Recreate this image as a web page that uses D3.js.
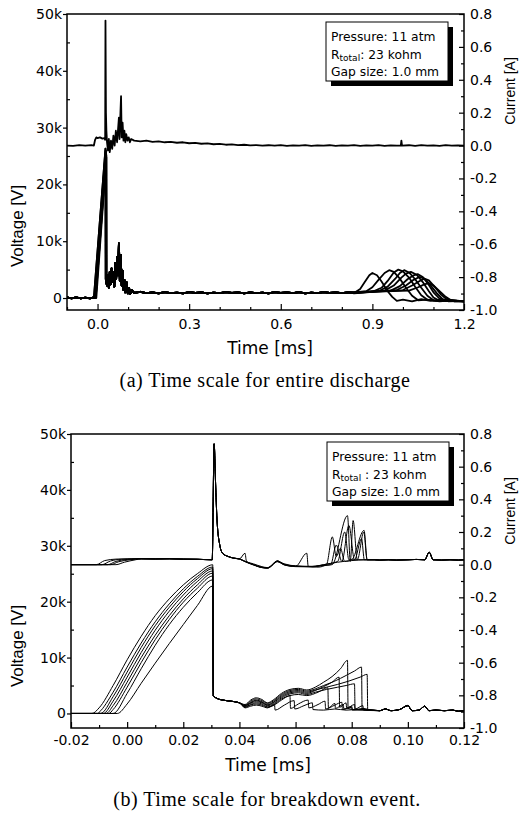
<!DOCTYPE html>
<html>
<head>
<meta charset="utf-8">
<script src="https://cdn.jsdelivr.net/npm/d3@7"></script>
<style>
  body { margin: 0; background: #fff; }
  svg { display: block; }
</style>
</head>
<body>
<svg id="chart" width="522" height="814"></svg>
<script>
// Voltage / current traces of a gas-gap discharge, two time scales.
// Voltage in kV on the left axis, current in A on the right axis.

// ---------- tick labels ----------
const voltTicks = [0, 10, 20, 30, 40, 50];
const voltMinor = [5, 15, 25, 35, 45];
const currTicks = [-1.0, -0.8, -0.6, -0.4, -0.2, 0.0, 0.2, 0.4, 0.6, 0.8];
const currMinor = [-0.9, -0.7, -0.5, -0.3, -0.1, 0.1, 0.3, 0.5, 0.7];
const aTimeTicks = [0.0, 0.3, 0.6, 0.9, 1.2];
const aTimeMinor = [-0.1, 0.1, 0.2, 0.4, 0.5, 0.7, 0.8, 1.0, 1.1];
const bTimeTicks = [-0.02, 0.0, 0.02, 0.04, 0.06, 0.08, 0.10, 0.12];
const bTimeMinor = [-0.01, 0.01, 0.03, 0.05, 0.07, 0.09, 0.11];

const aLegend = ["Pressure: 11 atm", ["R", "total", ": 23 kohm"], "Gap size: 1.0 mm"];
const bLegend = ["Pressure: 11 atm", ["R", "total", " : 23 kohm"], "Gap size: 1.0 mm"];

// ---------- (a) entire discharge: [time ms, value] ----------
const aCurrent = [[-0.1,0.0],[-0.08,-0.002],[-0.06,0.002],[-0.04,-0.001],[-0.02,0.002],[-0.012,0.0],
  [-0.008,0.035],[-0.004,0.05],[0.0,0.045],[0.008,0.05],[0.016,0.042],[0.022,0.045],[0.025,0.035],
  [0.026,0.76],[0.0275,0.2],[0.029,0.09],[0.031,0.02],[0.034,-0.03],[0.037,0.04],[0.04,-0.04],
  [0.044,0.03],[0.048,-0.02],[0.052,0.06],[0.056,0.0],[0.06,0.09],[0.064,0.02],[0.068,0.12],
  [0.07,0.17],[0.072,0.04],[0.075,0.2],[0.077,0.30],[0.079,0.05],[0.082,0.14],[0.085,0.03],
  [0.088,0.09],[0.091,0.02],[0.094,0.07],[0.098,0.03],[0.102,0.05],[0.106,0.02],[0.11,0.04],
  [0.12,0.03],[0.14,0.026],[0.16,0.03],[0.18,0.023],[0.2,0.026],[0.22,0.02],[0.24,0.023],
  [0.26,0.017],[0.28,0.02],[0.3,0.014],[0.32,0.016],[0.34,0.011],[0.36,0.013],[0.38,0.008],
  [0.4,0.01],[0.42,0.005],[0.44,0.007],[0.46,0.003],[0.48,0.005],[0.5,0.001],[0.52,0.003],
  [0.54,0.0],[0.56,0.002],[0.58,-0.001],[0.6,0.002],[0.62,-0.002],[0.64,0.001],[0.66,-0.001],
  [0.68,0.002],[0.7,-0.002],[0.72,0.001],[0.74,0.0],[0.76,0.002],[0.78,-0.002],[0.8,0.001],
  [0.82,-0.001],[0.84,0.002],[0.86,-0.002],[0.88,0.001],[0.9,-0.001],[0.92,0.002],[0.94,-0.002],
  [0.96,0.001],[0.98,-0.001],[0.993,0.0],[0.995,0.03],[0.997,0.0],[1.02,0.002],[1.04,-0.002],
  [1.06,0.002],[1.08,-0.001],[1.1,0.001],[1.12,-0.002],[1.14,0.002],[1.16,-0.001],[1.18,0.001],[1.2,-0.001]];

const aPre = [[-0.1,0.1],[-0.085,-0.05],[-0.07,0.1],[-0.055,-0.05],[-0.04,0.08],[-0.025,-0.05],[-0.015,0.05]];
const aRamps = [
  [[-0.012,0.0],[0.026,26.3],[0.0265,3.4]],
  [[-0.010,0.0],[0.027,26.0],[0.0275,3.0]],
  [[-0.008,0.0],[0.028,25.7],[0.0285,2.6]],
  [[-0.006,0.0],[0.0285,25.2],[0.029,2.8]],
  [[-0.004,0.0],[0.029,24.8],[0.0295,3.2]]
];
const aNoise = [[0.031,2.2],[0.034,4.0],[0.037,1.8],[0.04,4.6],[0.043,2.4],[0.046,5.2],[0.049,2.8],
  [0.052,4.6],[0.055,2.0],[0.058,6.2],[0.061,3.4],[0.064,7.2],[0.067,4.0],[0.07,9.6],[0.073,3.0],
  [0.076,7.6],[0.079,2.2],[0.082,4.8],[0.085,1.4],[0.088,3.2],[0.091,1.0],[0.095,2.8],[0.099,0.8],
  [0.103,1.8],[0.107,0.7],[0.112,1.4],[0.12,0.9],[0.14,1.1],[0.16,0.85],[0.18,1.0],[0.2,0.8],
  [0.22,1.05],[0.24,0.85],[0.26,0.95],[0.28,0.8],[0.3,1.05],[0.32,0.9],[0.34,1.0],[0.36,0.8],
  [0.38,0.95],[0.4,0.85],[0.42,1.05],[0.44,0.9],[0.46,1.0],[0.48,0.8],[0.5,1.0],[0.52,0.85],
  [0.54,0.95],[0.56,0.8],[0.58,1.05],[0.6,0.9],[0.62,1.0],[0.64,0.85],[0.66,1.05],[0.68,0.8],
  [0.7,0.95],[0.72,0.85],[0.74,1.05],[0.76,0.9],[0.78,1.0],[0.8,0.85],[0.82,1.0]];
const aLate = [
  [[0.84,0.9],[0.86,1.6],[0.875,2.8],[0.89,4.0],[0.90,4.4],[0.915,4.0],[0.93,2.9],[0.95,1.2],[0.965,0.2],[0.98,-0.5],[1.0,-0.3],[1.03,-0.6],[1.06,-0.2],[1.09,-0.5],[1.13,-0.3],[1.17,-0.6],[1.2,-0.5]],
  [[0.84,1.0],[0.88,1.2],[0.9,1.9],[0.92,3.2],[0.94,4.4],[0.955,4.9],[0.97,4.6],[0.99,3.4],[1.01,1.8],[1.03,0.4],[1.05,-0.4],[1.08,-0.3],[1.12,-0.6],[1.16,-0.4],[1.2,-0.6]],
  [[0.84,0.8],[0.9,1.1],[0.93,1.8],[0.95,3.0],[0.97,4.5],[0.985,5.0],[1.0,4.7],[1.02,3.6],[1.04,2.0],[1.06,0.5],[1.08,-0.3],[1.11,-0.5],[1.15,-0.3],[1.2,-0.6]],
  [[0.84,0.9],[0.92,1.2],[0.95,2.0],[0.975,3.4],[0.99,4.4],[1.004,4.9],[1.02,4.5],[1.04,3.3],[1.06,1.8],[1.08,0.4],[1.1,-0.4],[1.14,-0.5],[1.2,-0.6]],
  [[0.84,1.0],[0.94,1.3],[0.97,2.2],[0.995,3.6],[1.01,4.3],[1.026,4.6],[1.045,4.1],[1.065,2.8],[1.085,1.2],[1.1,0.1],[1.12,-0.5],[1.16,-0.4],[1.2,-0.6]],
  [[0.84,0.9],[0.96,1.3],[0.99,2.1],[1.015,3.3],[1.035,4.0],[1.048,4.2],[1.065,3.7],[1.085,2.3],[1.1,1.0],[1.12,-0.1],[1.14,-0.5],[1.2,-0.6]],
  [[0.84,1.0],[0.98,1.4],[1.01,2.2],[1.035,3.2],[1.054,3.7],[1.07,3.4],[1.09,2.3],[1.11,0.9],[1.13,-0.2],[1.15,-0.6],[1.2,-0.5]],
  [[0.84,0.9],[1.0,1.4],[1.03,2.2],[1.055,3.0],[1.07,3.4],[1.085,3.1],[1.105,1.9],[1.125,0.6],[1.145,-0.3],[1.17,-0.6],[1.2,-0.6]],
  [[0.84,1.0],[1.02,1.3],[1.05,1.9],[1.07,2.4],[1.085,2.6],[1.1,2.2],[1.12,1.2],[1.14,0.2],[1.16,-0.5],[1.2,-0.6]]
];

// ---------- (b) breakdown event ----------
const bCurrentPre = [
  [[-0.02,0.0],[-0.011,0.0],[-0.008,0.025],[-0.004,0.034],[0.0,0.036]],
  [[-0.02,0.0],[-0.009,0.0],[-0.006,0.022],[-0.002,0.033]],
  [[-0.02,0.0],[-0.007,0.0],[-0.004,0.02],[0.0,0.032]],
  [[-0.02,0.0],[-0.006,0.0],[-0.003,0.018],[0.001,0.03]],
  [[-0.02,0.0],[-0.004,0.0],[-0.001,0.015],[0.003,0.03]]
];
const bCurrentSpike = [[0.005,0.036],[0.01,0.035],[0.015,0.036],[0.02,0.034],[0.025,0.033],[0.0303,0.03],
  [0.031,0.74],[0.0315,0.5],[0.032,0.28],[0.033,0.12],[0.034,0.07],[0.036,0.05],[0.038,0.04],[0.04,0.035]];
const bCurrentMid = [
  [[0.042,0.02],[0.045,0.0],[0.0475,-0.015],[0.05,-0.02],[0.052,0.0],[0.0535,0.025],[0.055,0.01],[0.058,-0.005],[0.062,-0.01],[0.066,-0.012],[0.07,-0.005],[0.073,0.0],[0.0785,0.30],[0.0795,0.02],[0.0805,0.27],[0.082,0.03],[0.085,0.03],[0.088,0.03]],
  [[0.042,0.07],[0.0425,0.02],[0.045,0.0],[0.048,-0.018],[0.05,-0.02],[0.0535,0.02],[0.056,0.0],[0.06,-0.01],[0.064,0.07],[0.0645,-0.01],[0.068,-0.015],[0.071,0.0],[0.0731,0.17],[0.0745,0.05],[0.076,0.1],[0.0775,0.02],[0.08,0.03],[0.0844,0.21],[0.0855,0.03],[0.088,0.03]],
  [[0.042,0.02],[0.045,0.005],[0.048,-0.012],[0.05,-0.018],[0.0535,0.022],[0.056,0.005],[0.06,-0.008],[0.065,-0.012],[0.069,-0.006],[0.0725,0.0],[0.0745,0.12],[0.0765,0.02],[0.079,0.24],[0.081,0.03],[0.0835,0.16],[0.0845,0.03],[0.088,0.03]],
  [[0.042,0.02],[0.045,0.0],[0.048,-0.016],[0.05,-0.02],[0.0535,0.02],[0.056,0.0],[0.06,-0.01],[0.066,-0.01],[0.07,0.0],[0.075,0.02],[0.0775,0.2],[0.079,0.03],[0.082,0.03],[0.0843,0.2],[0.0855,0.03],[0.088,0.03]],
  [[0.042,0.018],[0.045,-0.002],[0.048,-0.018],[0.05,-0.022],[0.0535,0.018],[0.056,-0.002],[0.06,-0.012],[0.066,-0.014],[0.07,0.0],[0.075,0.015],[0.08,0.025],[0.085,0.03],[0.088,0.03]]
];
const bCurrentTail = [[0.09,0.028],[0.093,0.03],[0.096,0.028],[0.1,0.03],[0.103,0.032],[0.106,0.03],
  [0.1076,0.076],[0.109,0.03],[0.112,0.028],[0.115,0.03],[0.118,0.028],[0.12,0.03]];

const bRamps = [
  [[-0.02,0],[-0.0125,0],[-0.01,1.0],[-0.005,5.0],[0,9.6],[0.005,13.8],[0.01,17.5],[0.015,20.5],[0.02,23.0],[0.025,25.0],[0.0305,26.6]],
  [[-0.02,0],[-0.0105,0],[-0.01,0.2],[-0.005,3.8],[0,8.3],[0.005,12.6],[0.01,16.4],[0.015,19.6],[0.02,22.3],[0.025,24.5],[0.0305,26.2]],
  [[-0.02,0],[-0.0095,0],[-0.005,3.0],[0,7.4],[0.005,11.8],[0.01,15.7],[0.015,19.0],[0.02,21.8],[0.025,24.1],[0.0305,25.9]],
  [[-0.02,0],[-0.0085,0],[-0.005,2.2],[0,6.5],[0.005,10.9],[0.01,14.9],[0.015,18.3],[0.02,21.2],[0.025,23.6],[0.0305,25.5]],
  [[-0.02,0],[-0.0075,0],[-0.005,1.4],[0,5.6],[0.005,10.0],[0.01,14.0],[0.015,17.5],[0.02,20.5],[0.025,23.0],[0.0305,25.1]],
  [[-0.02,0],[-0.0065,0],[-0.005,0.7],[0,4.7],[0.005,9.1],[0.01,13.2],[0.015,16.8],[0.02,19.9],[0.025,22.4],[0.0305,24.6]],
  [[-0.02,0],[-0.005,0],[0,3.6],[0.005,8.0],[0.01,12.2],[0.015,15.9],[0.02,19.0],[0.025,21.6],[0.0305,23.9]],
  [[-0.02,0],[-0.0035,0],[0,1.7],[0.005,5.4],[0.01,9.0],[0.015,12.5],[0.02,15.9],[0.025,19.3],[0.0305,22.8]]
];
const bDrop = [[0.0307,3.2],[0.032,2.7],[0.034,2.4],[0.037,2.2],[0.04,1.9]];
const bMid = [
  [[0.042,1.6],[0.044,2.4],[0.046,2.8],[0.048,2.5],[0.05,1.9],[0.052,2.4],[0.055,3.6],[0.058,4.3],[0.061,4.5],[0.064,4.2],[0.067,4.7],[0.07,5.6],[0.073,6.6],[0.076,8.0],[0.0785,9.5],[0.0787,0.9],[0.081,0.7],[0.084,0.9],[0.087,0.6]],
  [[0.042,1.5],[0.044,2.2],[0.046,2.6],[0.048,2.3],[0.05,1.8],[0.052,2.2],[0.055,3.4],[0.058,4.1],[0.061,4.3],[0.064,4.0],[0.067,4.4],[0.07,5.0],[0.074,5.8],[0.078,6.8],[0.081,7.6],[0.0835,8.3],[0.0837,0.8],[0.086,0.6]],
  [[0.042,1.4],[0.044,2.0],[0.046,2.4],[0.048,2.1],[0.05,1.6],[0.052,2.0],[0.055,3.2],[0.058,3.9],[0.061,4.1],[0.064,3.8],[0.067,4.2],[0.071,4.7],[0.075,5.2],[0.079,5.8],[0.083,6.5],[0.0855,7.0],[0.0857,0.7],[0.088,0.6]],
  [[0.042,1.4],[0.044,1.9],[0.046,2.3],[0.048,2.0],[0.05,1.5],[0.052,1.9],[0.055,3.0],[0.058,3.7],[0.061,3.9],[0.064,3.6],[0.067,4.1],[0.07,4.8],[0.073,5.6],[0.0755,6.5],[0.0757,1.1],[0.078,1.9],[0.0782,0.9],[0.081,1.6],[0.0812,0.7],[0.085,0.7]],
  [[0.042,1.3],[0.044,1.8],[0.046,2.1],[0.048,1.9],[0.05,1.4],[0.052,1.7],[0.055,2.8],[0.058,3.5],[0.061,3.7],[0.064,3.4],[0.067,3.8],[0.071,4.3],[0.075,4.7],[0.078,5.0],[0.081,5.3],[0.0812,0.8],[0.084,1.4],[0.0842,0.6]],
  [[0.042,1.2],[0.044,1.6],[0.046,1.9],[0.048,1.7],[0.05,1.2],[0.052,1.5],[0.055,2.6],[0.058,3.2],[0.061,3.4],[0.064,3.2],[0.068,3.8],[0.0715,4.6],[0.0717,1.0],[0.074,1.8],[0.0742,0.9],[0.077,1.6],[0.0772,0.8],[0.08,1.3],[0.0802,0.7],[0.085,0.6]],
  [[0.042,1.1],[0.044,1.5],[0.046,1.7],[0.048,1.5],[0.05,1.1],[0.052,1.4],[0.055,2.4],[0.058,3.2],[0.0582,0.9],[0.061,1.7],[0.0645,2.4],[0.0647,1.0],[0.068,1.6],[0.0705,2.2],[0.0707,0.8],[0.074,1.5],[0.0765,2.0],[0.0767,0.7],[0.08,1.1],[0.0802,0.6],[0.085,0.7]],
  [[0.042,1.0],[0.044,1.3],[0.046,1.5],[0.048,1.3],[0.05,1.0],[0.0525,1.6],[0.0527,0.6],[0.056,1.5],[0.0595,2.3],[0.0597,0.8],[0.063,1.4],[0.066,1.9],[0.0662,0.7],[0.07,0.6],[0.074,0.8],[0.078,0.6],[0.082,0.7]]
];
const bTail = [[0.09,0.5],[0.092,0.8],[0.094,0.5],[0.097,0.7],[0.1,1.4],[0.1015,0.5],[0.104,0.6],
  [0.106,1.3],[0.1075,0.5],[0.11,0.6],[0.113,0.5],[0.116,0.6],[0.118,0.4],[0.12,0.5]];

// ---------- assemble traces ----------
const aVoltage = aLate.map((late, i) => [...aPre, ...aRamps[i % aRamps.length], ...aNoise, ...late]);
const bVoltage = bRamps.map((ramp, i) => [...ramp, ...bDrop, ...bMid[i], ...bTail]);
const bCurrent = bCurrentPre.map((pre, i) => [...pre, ...bCurrentSpike, ...bCurrentMid[i], ...bCurrentTail]);

const SANS = "'DejaVu Sans', sans-serif";
const NARROW = "'Liberation Sans', Arial, sans-serif";
const SERIF = "'Liberation Serif', 'Times New Roman', serif";
const noMinus = f => d => f(d).replace("\u2212", "-");

const svg = d3.select("#chart");
svg.append("rect").attr("width", 522).attr("height", 814).attr("fill", "#fff");

function drawPanel(cfg) {
  const g = svg.append("g");
  const x = d3.scaleLinear().domain(cfg.xDomain).range([cfg.left, cfg.right]);
  const yV = d3.scaleLinear().domain(cfg.vDomain).range([cfg.bottom, cfg.top]);
  const yI = d3.scaleLinear().domain([-1.0, 0.8]).range([cfg.bottom, cfg.top]);

  const clipId = "clip-" + cfg.id;
  g.append("clipPath").attr("id", clipId).append("rect")
    .attr("x", cfg.left).attr("y", cfg.top)
    .attr("width", cfg.right - cfg.left).attr("height", cfg.bottom - cfg.top);

  const traces = g.append("g").attr("clip-path", `url(#${clipId})`)
    .attr("fill", "none").attr("stroke", "#000")
    .attr("stroke-width", cfg.lineWidth).attr("stroke-linejoin", "round");

  const vLine = d3.line().x(d => x(d[0])).y(d => yV(d[1])).curve(cfg.curve);
  const iLine = d3.line().x(d => x(d[0])).y(d => yI(d[1])).curve(cfg.curve);

  traces.selectAll(".v").data(cfg.voltage).join("path").attr("class", "v").attr("d", vLine);
  traces.selectAll(".i").data(cfg.current).join("path").attr("class", "i").attr("d", iLine);

  // frame
  g.append("rect")
    .attr("x", cfg.left).attr("y", cfg.top)
    .attr("width", cfg.right - cfg.left).attr("height", cfg.bottom - cfg.top)
    .attr("fill", "none").attr("stroke", "#000").attr("stroke-width", 1.5);

  const styleAxis = sel => {
    sel.select(".domain").remove();
    sel.attr("font-family", SANS).attr("font-size", 14).attr("color", "#000");
    sel.selectAll("line").attr("stroke-width", 1.2);
  };

  // left (voltage)
  g.append("g").attr("transform", `translate(${cfg.left},0)`)
    .call(d3.axisLeft(yV).tickValues(voltTicks).tickFormat(d => d === 0 ? "0" : d + "k")
      .tickSize(4).tickPadding(1))
    .call(styleAxis);
  g.append("g").attr("transform", `translate(${cfg.left},0)`)
    .call(d3.axisLeft(yV).tickValues(voltMinor).tickFormat("").tickSize(-3))
    .call(styleAxis);

  // right (current)
  g.append("g").attr("transform", `translate(${cfg.right},0)`)
    .call(d3.axisRight(yI).tickValues(currTicks).tickFormat(noMinus(d3.format(".1f")))
      .tickSize(-5).tickPadding(6))
    .call(styleAxis);
  g.append("g").attr("transform", `translate(${cfg.right},0)`)
    .call(d3.axisRight(yI).tickValues(currMinor).tickFormat("").tickSize(-3))
    .call(styleAxis);

  // bottom (time)
  g.append("g").attr("transform", `translate(0,${cfg.bottom})`)
    .call(d3.axisBottom(x).tickValues(cfg.xTicks).tickFormat(noMinus(d3.format(cfg.xFmt)))
      .tickSize(-6).tickPadding(cfg.xPad))
    .call(styleAxis);
  g.append("g").attr("transform", `translate(0,${cfg.bottom})`)
    .call(d3.axisBottom(x).tickValues(cfg.xMinor).tickFormat("").tickSize(-3))
    .call(styleAxis);

  // axis titles
  g.append("text").attr("x", cfg.timeX).attr("y", cfg.timeY)
    .attr("text-anchor", "middle").attr("font-family", SANS).attr("font-size", 17)
    .text("Time [ms]");
  g.append("text")
    .attr("transform", `translate(23,${cfg.top + 212}) rotate(-90)`)
    .attr("text-anchor", "middle").attr("font-family", NARROW).attr("font-size", 17)
    .text("Voltage [V]");
  g.append("text")
    .attr("transform", `translate(515,${cfg.top + 77}) rotate(-90)`)
    .attr("text-anchor", "middle").attr("font-family", NARROW).attr("font-size", 14)
    .text("Current [A]");

  // legend box with drop shadow
  const lx = cfg.legendX, ly = cfg.top + 8, lw = 122, lh = 59;
  g.append("rect").attr("x", lx + 5).attr("y", ly + 5).attr("width", lw).attr("height", lh).attr("fill", "#000");
  g.append("rect").attr("x", lx).attr("y", ly).attr("width", lw).attr("height", lh)
    .attr("fill", "#fff").attr("stroke", "#000").attr("stroke-width", 1);
  const rows = [19, 36.5, 54];
  cfg.legend.forEach((line, i) => {
    const t = g.append("text").attr("x", lx + 5).attr("y", ly + rows[i])
      .attr("font-family", SANS).attr("font-size", 12.3);
    if (typeof line === "string") {
      t.text(line);
    } else {
      t.append("tspan").text(line[0]);
      t.append("tspan").attr("font-size", 9).attr("dy", 2.5).text(line[1]);
      t.append("tspan").attr("dy", -2.5).text(line[2]);
    }
  });

  // caption
  g.append("text").attr("x", cfg.captionX).attr("y", cfg.captionY)
    .attr("text-anchor", "middle").attr("font-family", SERIF).attr("font-size", 20)
    .attr("letter-spacing", 0.5)
    .text(cfg.caption);
}

drawPanel({
  id: "a",
  left: 67, right: 464, top: 14, bottom: 310,
  xDomain: [-0.1, 1.2], vDomain: [-2.11, 50],
  xTicks: aTimeTicks, xMinor: aTimeMinor, xFmt: ".1f", xPad: 9,
  voltage: aVoltage, current: [aCurrent],
  curve: d3.curveLinear, lineWidth: 1.8,
  timeX: 270, timeY: 354,
  legendX: 326, legend: aLegend,
  caption: "(a) Time scale for entire discharge", captionX: 265, captionY: 387
});

drawPanel({
  id: "b",
  left: 71, right: 464, top: 434, bottom: 728,
  xDomain: [-0.02, 0.12], vDomain: [-2.6, 50],
  xTicks: bTimeTicks, xMinor: bTimeMinor, xFmt: ".2f", xPad: 7,
  voltage: bVoltage, current: bCurrent,
  curve: d3.curveMonotoneX, lineWidth: 1,
  timeX: 268, timeY: 771,
  legendX: 327, legend: bLegend,
  caption: "(b) Time scale for breakdown event.", captionX: 267, captionY: 806
});
</script>
</body>
</html>
